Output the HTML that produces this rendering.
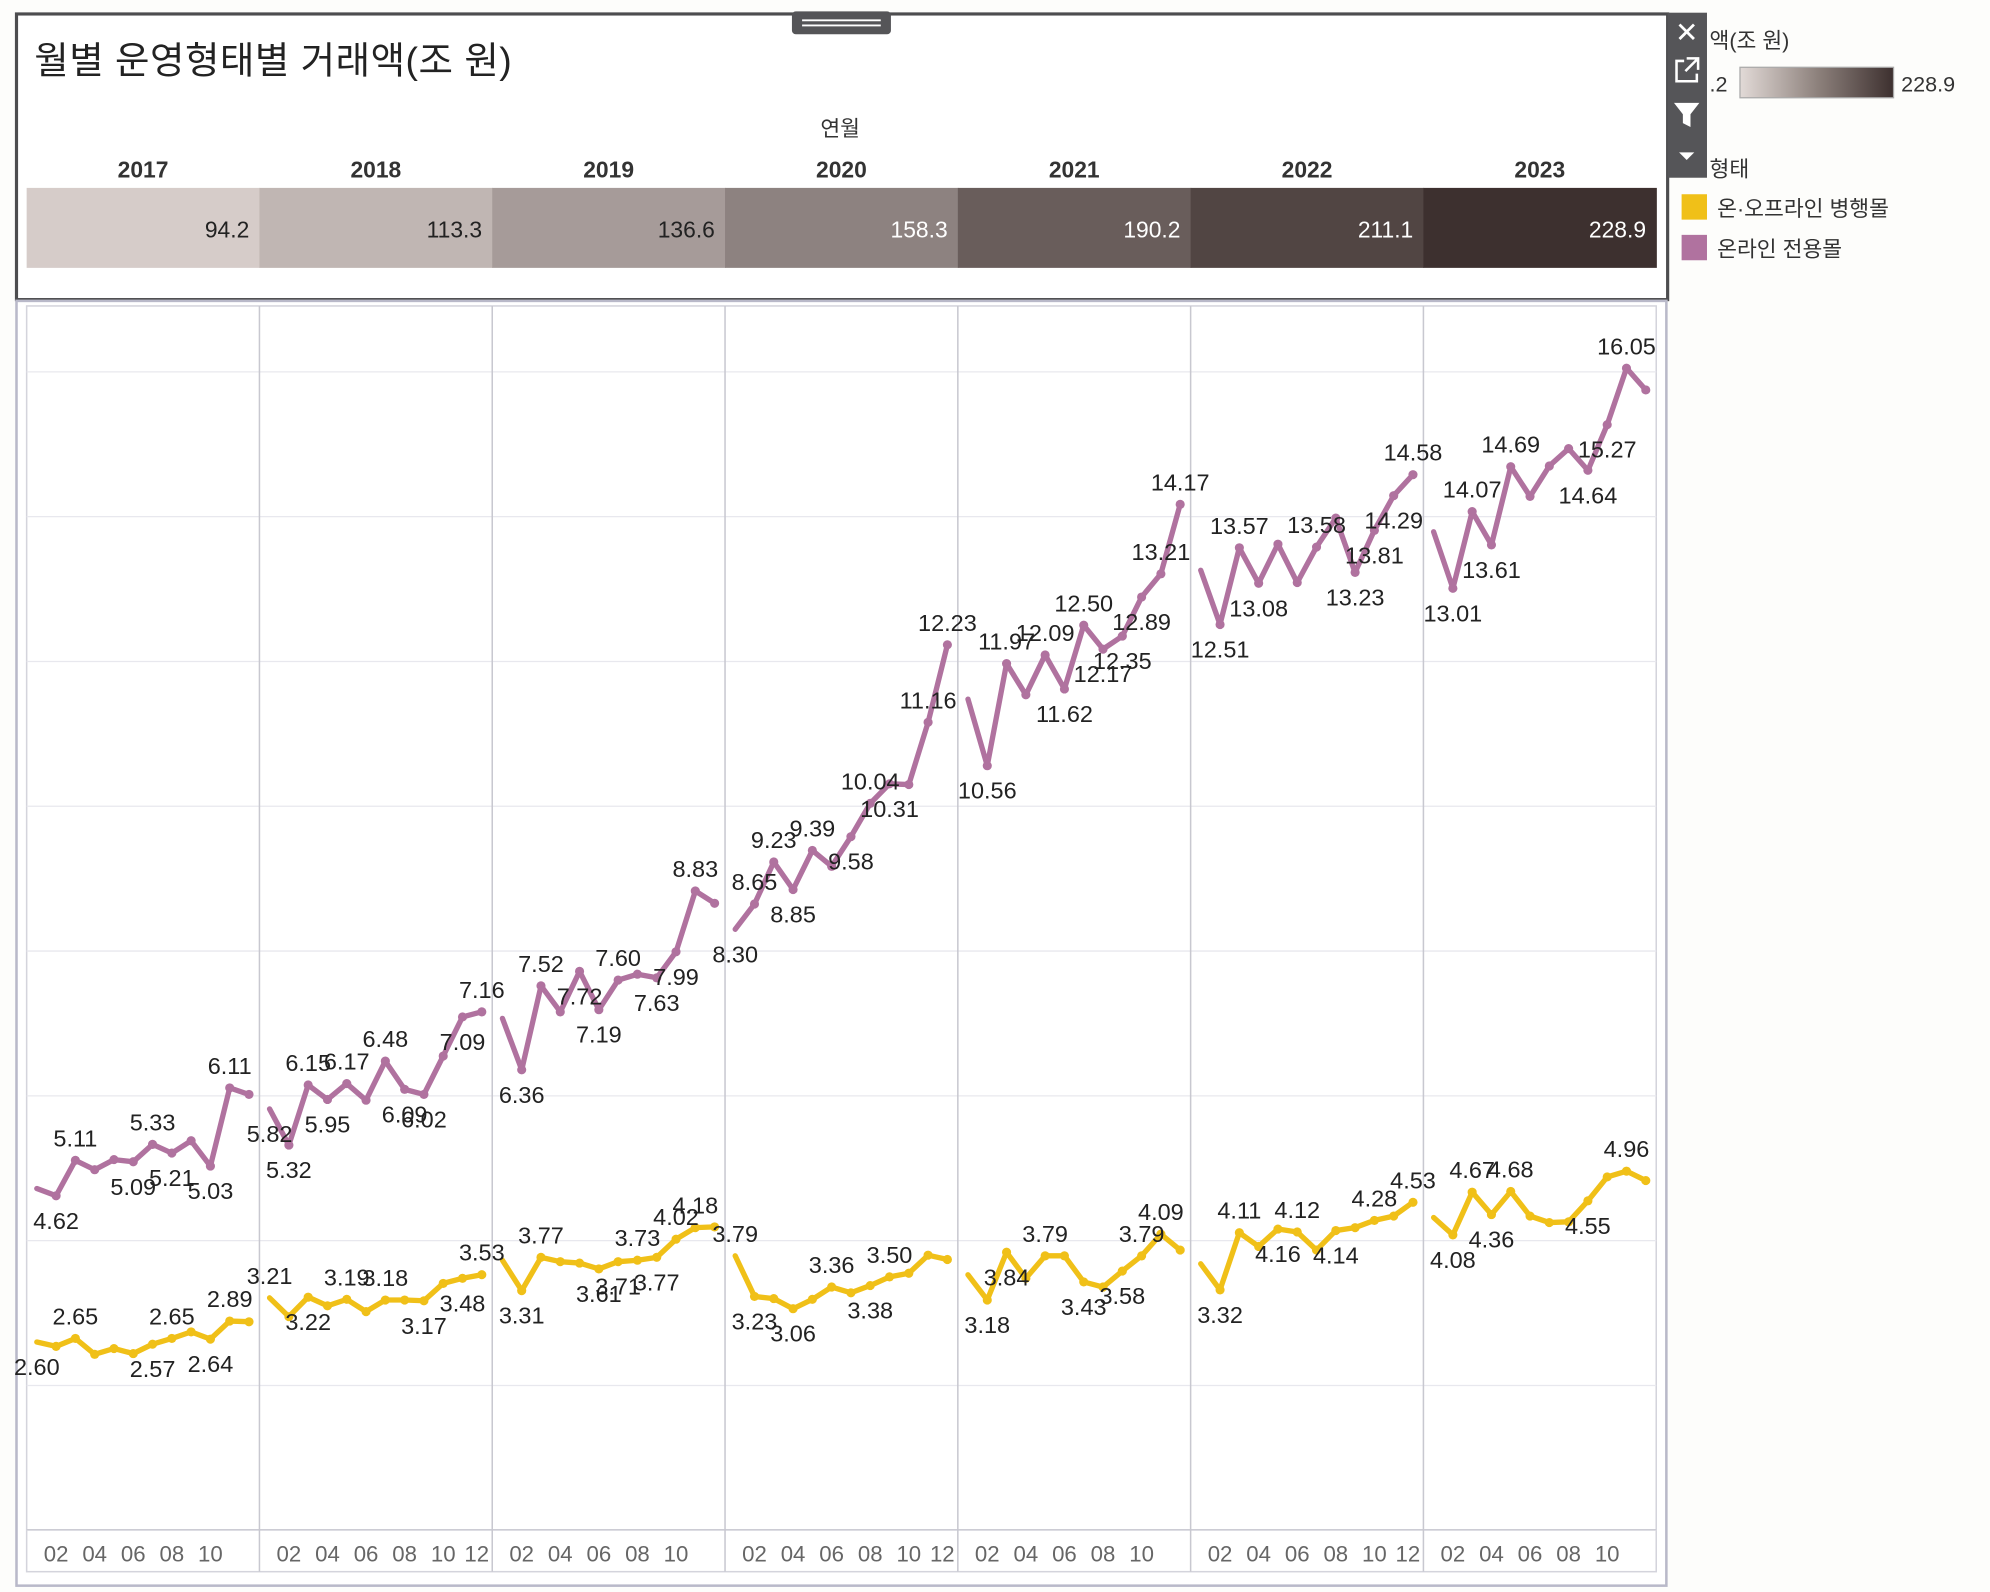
<!DOCTYPE html>
<html><head><meta charset="utf-8">
<style>
html,body{margin:0;padding:0;background:#fff;}
svg{display:block;font-family:"Liberation Sans","Noto Sans CJK KR",sans-serif;}
</style></head>
<body>
<svg id="root" width="1990" height="1592" viewBox="0 0 1568 1254" preserveAspectRatio="none" xmlns="http://www.w3.org/2000/svg">
  <rect x="0" y="0" width="1568" height="1254" fill="#fdfdfb"/>
  <g>
    <rect x="13" y="11" width="1301" height="225" fill="#fff" stroke="#4d4d4f" stroke-width="2.5"/>
    <rect x="624" y="9" width="78" height="18" rx="3" fill="#555558"/>
    <line x1="632" y1="16" x2="694" y2="16" stroke="#fff" stroke-width="1.5"/>
    <line x1="632" y1="20" x2="694" y2="20" stroke="#fff" stroke-width="1.5"/>
    <text x="27" y="58" font-size="29.5" letter-spacing="0.4" fill="#222">월별 운영형태별 거래액(조 원)</text>
    <text x="662" y="107" font-size="17" fill="#333" text-anchor="middle">연월</text>
    <g id="heat"></g>
  </g>
  <g>
    <rect x="1314" y="10" width="31" height="130" fill="#555558"/>
    <text x="1329" y="33" font-size="22" fill="#fff" text-anchor="middle">✕</text>
    <g stroke="#fff" stroke-width="2" fill="none">
      <path d="M1327 48 h-6 v16 h16 v-6"/><path d="M1329 46 h9 v9 M1338 46 l-10 10"/>
    </g>
    <path d="M1319 81 h20 l-7 9 v10 l-6 -3 v-7 z" fill="#fff"/>
    <path d="M1323 120 h12 l-6 6 z" fill="#fff"/>
  </g>
  <g>
    <defs><linearGradient id="lg" x1="0" x2="1" y1="0" y2="0"><stop offset="0" stop-color="#e2dad7"/><stop offset="0.5" stop-color="#8e827d"/><stop offset="1" stop-color="#3d302f"/></linearGradient></defs>
    <text x="1347" y="38" font-size="17" fill="#333">액(조 원)</text>
    <text x="1347" y="72" font-size="17" fill="#333">.2</text>
    <rect x="1371" y="53" width="121" height="24" fill="url(#lg)" stroke="#aaa" stroke-width="1"/>
    <text x="1498" y="72" font-size="17" fill="#333">228.9</text>
  </g>
  <g>
    <text x="1347" y="139" font-size="17" fill="#333">형태</text>
    <g>
      <rect x="1325" y="153" width="20" height="20" fill="#f0c018"/>
      <text x="1353" y="170" font-size="17" fill="#333">온·오프라인 병행몰</text>
    </g>
    <g>
      <rect x="1325" y="185" width="20" height="20" fill="#b0729f"/>
      <text x="1353" y="202" font-size="17" fill="#333">온라인 전용몰</text>
    </g>
  </g>
  <rect x="13" y="237" width="1300" height="1012" fill="#fff" stroke="#b9b9c9" stroke-width="2"/>
  <g id="chart"></g>
</svg>
<script>
const years = ['2017','2018','2019','2020','2021','2022','2023'];
const yearTotals = [94.2, 113.3, 136.6, 158.3, 190.2, 211.1, 228.9];
const monthTicks = ['02','04','06','08','10','12'];
const omniValues = [
  2.60,2.54,2.65,2.43,2.51,2.44,2.57,2.65,2.74,2.64,2.89,2.88,
  3.21,2.95,3.22,3.10,3.19,3.02,3.18,3.18,3.17,3.41,3.48,3.53,
  3.73,3.31,3.77,3.71,3.69,3.61,3.71,3.73,3.77,4.02,4.18,4.19,
  3.79,3.23,3.20,3.06,3.19,3.36,3.28,3.38,3.50,3.55,3.80,3.74,
  3.53,3.18,3.84,3.48,3.79,3.79,3.43,3.36,3.58,3.79,4.09,3.87,
  3.68,3.32,4.11,3.92,4.16,4.12,3.87,4.14,4.18,4.28,4.34,4.53,
  4.32,4.08,4.67,4.36,4.68,4.34,4.25,4.26,4.55,4.88,4.96,4.83];
const onlineValues = [
  4.72,4.62,5.11,4.98,5.12,5.09,5.33,5.21,5.38,5.03,6.11,6.02,
  5.82,5.32,6.15,5.95,6.17,5.94,6.48,6.09,6.02,6.55,7.09,7.16,
  7.07,6.36,7.52,7.16,7.72,7.19,7.60,7.68,7.63,7.99,8.83,8.66,
  8.30,8.65,9.23,8.85,9.39,9.17,9.58,10.04,10.31,10.30,11.16,12.23,
  11.48,10.56,11.97,11.54,12.09,11.62,12.50,12.17,12.35,12.89,13.21,14.17,
  13.26,12.51,13.57,13.08,13.62,13.09,13.58,13.98,13.23,13.81,14.29,14.58,
  13.79,13.01,14.07,13.61,14.69,14.28,14.70,14.94,14.64,15.27,16.05,15.75];
const onlineLabelsAbove = [2,6,10, 14,16,18,23, 26,30,34, 37,38,40,43,46,47, 50,52,54,58,59, 62,66,71, 74,76,82];
const onlineLabelsBelow = [1,5,7,9, 12,13,15,19,20,22, 25,28,29,32,33, 36,39,42,44, 49,53,55,56,57, 61,63,68,69,70, 73,75,80,81];
const omniLabelsAbove = [2,7,10, 12,16,18,23, 26,31,33,34, 36,41,44, 52,57,58, 62,65,69,71, 74,76,82];
const omniLabelsBelow = [0,6,9, 14,20,22, 25,29,30,32, 37,39,43, 49,50,54,56, 61,64,67, 73,75,80];
const yTicks = [0,2,4,6,8,10,12,14,16];

const NS = 'http://www.w3.org/2000/svg';
function mk(tag, attrs, parent){ const e=document.createElementNS(NS,tag); for(const k in attrs) e.setAttribute(k,attrs[k]); parent.appendChild(e); return e; }

const heat = document.getElementById('heat');
const hx0 = 21, hx1 = 1305, cellW = (hx1-hx0)/years.length;
const tMin = Math.min(...yearTotals), tMax = Math.max(...yearTotals);
function heatColor(v){
  const t = (v - tMin)/(tMax - tMin);
  const a=[214,204,201], b=[61,48,47];
  return 'rgb('+a.map((c,i)=>Math.round(c+(b[i]-c)*t)).join(',')+')';
}
years.forEach((yr,i)=>{
  const x = hx0 + i*cellW;
  const lab = mk('text',{x:x+cellW/2,y:140,'font-size':18,'font-weight':'bold','fill':'#333','text-anchor':'middle'},heat);
  lab.textContent = yr;
  
  
  const r = mk('rect',{x:x,y:148,width:cellW+0.5,height:63,fill:heatColor(yearTotals[i])},heat);
  
  
  const t = (yearTotals[i]-tMin)/(tMax-tMin);
  const v = mk('text',{x:x+cellW-8,y:187,'font-size':18,'fill':t>0.45?'#fff':'#222','text-anchor':'end'},heat);
  v.textContent = yearTotals[i].toFixed(1);
  
  
});

const chart = document.getElementById('chart');
const cx0 = 21, cx1 = 1305, cy0 = 241, cyBase = 1205, cyAxis = 1238;
const panelW = (cx1-cx0)/years.length;
const yScale = v => 292.9 - (v-16)*57.03;
const xScale = idx => { const y=Math.floor(idx/12), m=idx%12; return cx0 + y*panelW + 8 + m*15.2; };

const frame = mk('rect',{x:cx0,y:cy0,width:cx1-cx0,height:cyAxis-cy0,fill:'#fff',stroke:'#d4d4dc','stroke-width':1.2},chart);


yTicks.forEach(t=>{
  const g = mk('line',{x1:cx0,x2:cx1,y1:yScale(t),y2:yScale(t),stroke:'#e8e8ee','stroke-width':1},chart);
  
  
});
mk('line',{x1:cx0,x2:cx1,y1:cyBase,y2:cyBase,stroke:'#ccccd4','stroke-width':1.2},chart);
years.forEach((yr,i)=>{
  if(i>0){
    const s = mk('line',{x1:cx0+i*panelW,x2:cx0+i*panelW,y1:cy0,y2:cyAxis,stroke:'#c8c8d0','stroke-width':1.2},chart);
    
    
  }
  monthTicks.forEach((mt,j)=>{
    if(mt==='12' && i%2===0) return;
    const idx = i*12 + parseInt(mt,10)-1;
    const tx = mk('text',{x:xScale(idx)-(mt==='12'?4:0),y:1230,'font-size':17.5,'fill':'#666','text-anchor':'middle'},chart);
    tx.textContent = mt;
    
    
  });
});

function drawSeries(vals, color, name, above, below){
  const g = mk('g',{},chart);
  
  
  for(let y=0;y<years.length;y++){
    let d='';
    for(let m=0;m<12;m++){
      const idx=y*12+m;
      d += (m===0?'M':'L')+xScale(idx).toFixed(1)+' '+yScale(vals[idx]).toFixed(1)+' ';
    }
    const p = mk('path',{d:d,fill:'none',stroke:color,'stroke-width':4.2,'stroke-linejoin':'round','stroke-linecap':'round'},g);
    
    
    for(let m=1;m<12;m++){
      const idx=y*12+m;
      const c = mk('circle',{cx:xScale(idx),cy:yScale(vals[idx]),r:3.6,fill:color},g);
      
      
    }
  }
  const lab = (idx,dy)=>{
    const t = mk('text',{x:xScale(idx),y:yScale(vals[idx])+dy,'font-size':18.5,'fill':'#222','text-anchor':'middle'},g);
    t.textContent = vals[idx].toFixed(2);
    
    
  };
  above.forEach(i=>lab(i,-11));
  below.forEach(i=>lab(i,26));
}
drawSeries(onlineValues,'#b0729f','online',onlineLabelsAbove,onlineLabelsBelow);
drawSeries(omniValues,'#f0c018','omni',omniLabelsAbove,omniLabelsBelow);
</script>
</body></html>
